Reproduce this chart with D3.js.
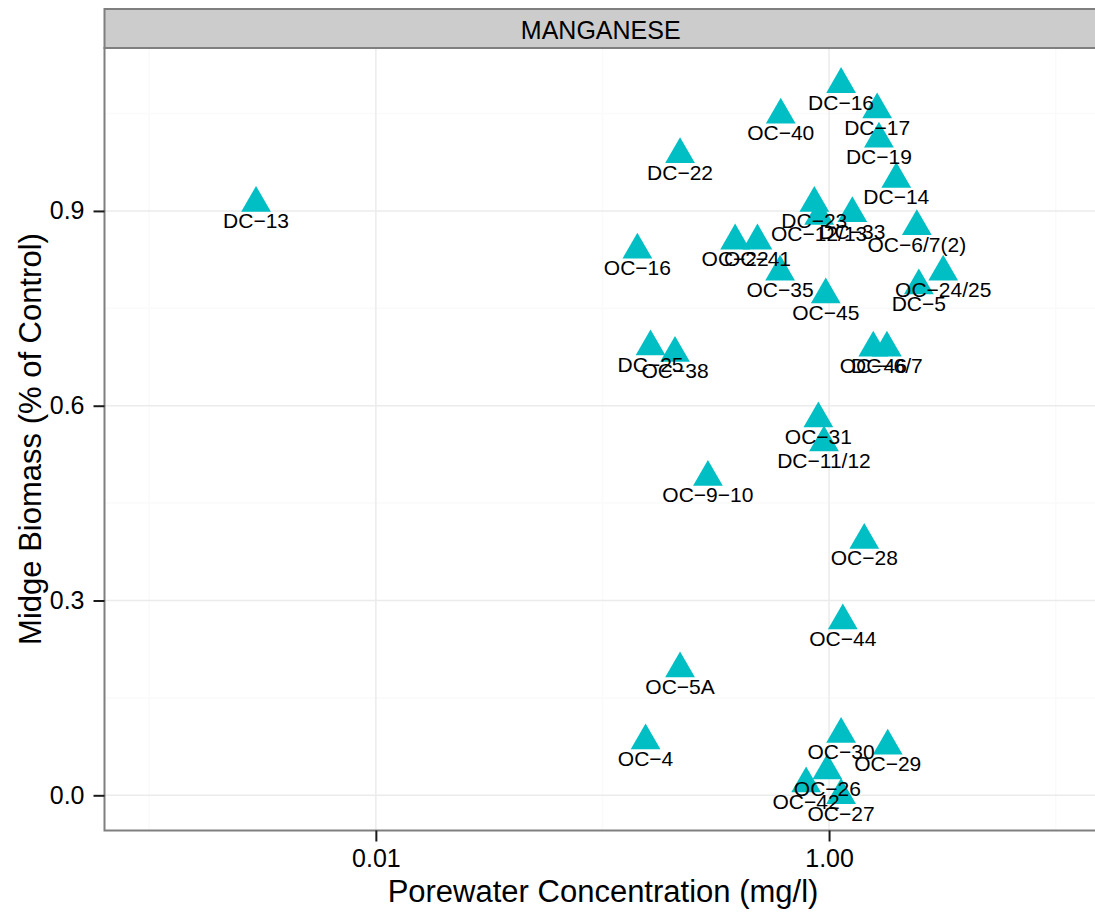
<!DOCTYPE html>
<html>
<head>
<meta charset="utf-8">
<script src="https://cdn.jsdelivr.net/npm/d3@7"></script>
<style>
  html, body { margin: 0; padding: 0; background: #fff; }
  svg { display: block; font-family: "Liberation Sans", Arial, Helvetica, sans-serif; }
</style>
</head>
<body>
<svg id="chart" width="1095" height="914"></svg>
<script>
// ---- data ----
const stationLabels = ["DC-13","DC-16","OC-40","DC-17","DC-19","DC-22","DC-14","DC-23","DC-33","OC-12/13",
  "OC-6/7(2)","OC-16","OC-22","OC-41","OC-35","OC-24/25","DC-5","OC-45","DC-25","OC-38",
  "OC-46","DC-6/7","OC-31","DC-11/12","OC-9-10","OC-28","OC-44","OC-5A","OC-4","OC-30",
  "OC-29","OC-26","OC-42","OC-27"];
const porewaterConc = [0.00296,1.13,0.612,1.63,1.66,0.220,1.98,0.861,1.267,0.904,
  2.44,0.1426,0.385,0.483,0.608,3.19,2.49,0.967,0.163,0.209,
  1.567,1.80,0.897,0.95,0.292,1.43,1.15,0.220,0.155,1.13,
  1.815,0.983,0.792,1.13];
const midgeBiomass = [0.912,1.095,1.048,1.056,1.011,0.987,0.949,0.912,0.896,0.892,
  0.876,0.840,0.854,0.854,0.806,0.806,0.785,0.771,0.691,0.681,
  0.689,0.689,0.580,0.543,0.490,0.393,0.269,0.195,0.084,0.094,
  0.076,0.038,0.018,0.0];
const xTickValues = [0.01, 1];
const xTickLabels = ["0.01", "1.00"];
const xMinorValues = [0.001, 0.1, 10];
const yTickValues = [0.0, 0.3, 0.6, 0.9];
const yTickLabels = ["0.0", "0.3", "0.6", "0.9"];
const yMinorValues = [0.15, 0.45, 0.75, 1.05];
const panelTitle = "MANGANESE";
const xTitle = "Porewater Concentration (mg/l)";
const yTitle = "Midge Biomass (% of Control)";

// ---- layout ----
const svg = d3.select("#chart");
const L = 104.5, R = 1097, T = 48, B = 830.5;
const stripTop = 9;

const x = d3.scaleLog().domain([Math.pow(10, -3.1975), Math.pow(10, (R - 829) / 226.65)]).range([L, R]);
const y = d3.scaleLinear().domain([(795.3 - B) / 649.3, (795.3 - T) / 649.3]).range([B, T]);

// panel background
svg.append("rect").attr("x", L).attr("y", T).attr("width", R - L).attr("height", B - T).attr("fill", "#fff");

// minor grid
const grid = svg.append("g");
grid.selectAll(".vminor").data(xMinorValues).join("line")
  .attr("x1", d => x(d)).attr("x2", d => x(d)).attr("y1", T).attr("y2", B)
  .attr("stroke", "#FAFAFA").attr("stroke-width", 1.5);
grid.selectAll(".hminor").data(yMinorValues).join("line")
  .attr("y1", d => y(d)).attr("y2", d => y(d)).attr("x1", L).attr("x2", R)
  .attr("stroke", "#FAFAFA").attr("stroke-width", 1.5);
// major grid
grid.selectAll(".vmajor").data(xTickValues).join("line")
  .attr("x1", d => x(d)).attr("x2", d => x(d)).attr("y1", T).attr("y2", B)
  .attr("stroke", "#EBEBEB").attr("stroke-width", 1.5);
grid.selectAll(".hmajor").data(yTickValues).join("line")
  .attr("y1", d => y(d)).attr("y2", d => y(d)).attr("x1", L).attr("x2", R)
  .attr("stroke", "#EBEBEB").attr("stroke-width", 1.5);

// points
const pts = stationLabels.map((s, i) => ({ s, cx: porewaterConc[i], cy: midgeBiomass[i] }));
const tri = d3.symbol().type(d3.symbolTriangle).size(384);
svg.append("g").selectAll("path").data(pts).join("path")
  .attr("d", tri)
  .attr("transform", d => `translate(${x(d.cx)},${y(d.cy)})`)
  .attr("fill", "#00BFC4");

// labels
svg.append("g").selectAll("text").data(pts).join("text")
  .attr("x", d => x(d.cx)).attr("y", d => y(d.cy) + 17.7)
  .attr("text-anchor", "middle").attr("dominant-baseline", "central")
  .attr("font-size", 21).attr("fill", "#000")
  .text(d => d.s.replace(/-/g, "\u2212"));

// panel border
svg.append("rect").attr("x", L).attr("y", T).attr("width", R - L).attr("height", B - T)
  .attr("fill", "none").attr("stroke", "#7F7F7F").attr("stroke-width", 2);

// strip
svg.append("rect").attr("x", L).attr("y", stripTop).attr("width", R - L).attr("height", T - stripTop)
  .attr("fill", "#CCCCCC").attr("stroke", "#7F7F7F").attr("stroke-width", 2);
svg.append("text").attr("x", (L + 1085) / 2 + 6).attr("y", (stripTop + T) / 2 + 1)
  .attr("text-anchor", "middle").attr("dominant-baseline", "central")
  .attr("font-size", 25).attr("fill", "#000").text(panelTitle);

// axes
const xAxis = d3.axisBottom(x).tickValues(xTickValues).tickFormat((d, i) => xTickLabels[i]).tickSize(11).tickPadding(8);
const gx = svg.append("g").attr("transform", `translate(0,${B})`).call(xAxis);
gx.select(".domain").remove();
gx.selectAll(".tick line").attr("stroke", "#1a1a1a").attr("stroke-width", 2);
gx.selectAll(".tick text").attr("font-size", 25).attr("fill", "#000").attr("font-family", null);

const yAxis = d3.axisLeft(y).tickValues(yTickValues).tickFormat((d, i) => yTickLabels[i]).tickSize(11).tickPadding(9);
const gy = svg.append("g").attr("transform", `translate(${L},0)`).call(yAxis);
gy.select(".domain").remove();
gy.selectAll(".tick line").attr("stroke", "#1a1a1a").attr("stroke-width", 2);
gy.selectAll(".tick text").attr("font-size", 25).attr("fill", "#000").attr("font-family", null);

// titles
svg.append("text").attr("x", 603).attr("y", 891)
  .attr("text-anchor", "middle").attr("dominant-baseline", "central")
  .attr("font-size", 31).attr("fill", "#000").text(xTitle);
svg.append("text").attr("transform", `translate(30,439) rotate(-90)`)
  .attr("text-anchor", "middle").attr("dominant-baseline", "central")
  .attr("font-size", 31).attr("fill", "#000").text(yTitle);
</script>
</body>
</html>
